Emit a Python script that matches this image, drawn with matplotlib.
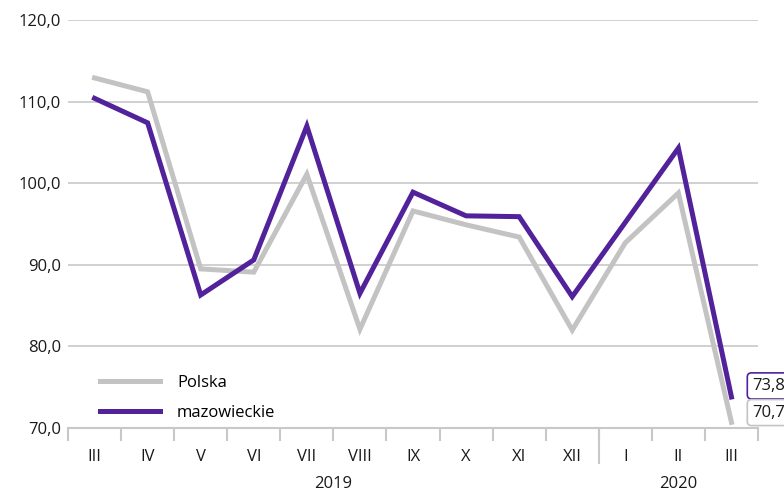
import numpy as np
import matplotlib.pyplot as plt
from matplotlib.ticker import FuncFormatter

# Dati
MESI = ['III', 'IV', 'V', 'VI', 'VII', 'VIII', 'IX', 'X', 'XI', 'XII', 'I', 'II', 'III']
ANNI = ['2019', '2020']
MESI_PER_ANNO = [10, 3]
POLSKA = [112.9, 111.2, 89.5, 89.1, 101.1, 82.1, 96.6, 94.9, 93.4, 82.0, 92.7, 98.8, 70.7]
MAZOWIECKIE = [110.4, 107.4, 86.3, 90.6, 107.0, 86.5, 98.9, 96.0, 95.9, 86.1, 95.2, 104.3, 73.8]

GRIGIO = '#c3c3c3'
VIOLA = '#51229a'
ASSI = '#c8c8c8'

plt.rcParams['font.family'] = ['Open Sans', 'DejaVu Sans']
plt.rcParams['font.size'] = 12

fig = plt.figure(figsize=(7.84, 4.94), dpi=100)
ax = fig.add_axes([68 / 784, 1 - 428 / 494, 690 / 784, 408 / 494])

x = np.arange(len(MESI))
ax.plot(x, POLSKA, color=GRIGIO, lw=3.6, solid_joinstyle='miter', label='Polska', zorder=3)
ax.plot(x, MAZOWIECKIE, color=VIOLA, lw=3.6, solid_joinstyle='miter', label='mazowieckie', zorder=4)

ax.set_xlim(-0.5, len(MESI) - 0.5)
ax.set_ylim(70, 120)
ax.set_yticks(np.arange(70, 121, 10))
ax.yaxis.set_major_formatter(FuncFormatter(lambda v, p: f'{v:.1f}'.replace('.', ',')))
ax.grid(axis='y', color=ASSI, lw=1.2)
ax.set_axisbelow(True)

for s in ['left', 'right', 'top']:
    ax.spines[s].set_visible(False)
ax.spines['bottom'].set_color(ASSI)
ax.spines['bottom'].set_linewidth(1.5)

ax.set_xticks(x)
ax.set_xticklabels(MESI)
ax.set_xticks(np.arange(-0.5, len(MESI)), minor=True)
ax.tick_params(axis='x', which='major', length=0, pad=15, labelsize=12, colors='#1a1a1a')
ax.tick_params(axis='x', which='minor', length=9, width=1.5, color=ASSI)
ax.tick_params(axis='y', length=0, pad=5, labelsize=12, colors='#1a1a1a')

# Separatore anni e etichette anni
inizio = 0
for anno, n in zip(ANNI, MESI_PER_ANNO):
    centro = inizio + (n - 1) / 2
    ax.text(centro, -0.137, anno, transform=ax.get_xaxis_transform(),
            ha='center', va='center', fontsize=12, color='#1a1a1a')
    inizio += n
    if inizio < len(MESI):
        ax.plot([inizio - 0.5, inizio - 0.5], [0, -0.085], color=ASSI, lw=1.5,
                transform=ax.get_xaxis_transform(), clip_on=False)

# Etichette ultimo valore
for serie, col, dy in [(MAZOWIECKIE, VIOLA, 8), (POLSKA, GRIGIO, 7)]:
    ax.annotate(f'{serie[-1]:.1f}'.replace('.', ','), (x[-1], serie[-1]),
                xytext=(15, dy), textcoords='offset points',
                ha='left', va='center', fontsize=12, color='#1a1a1a',
                bbox=dict(boxstyle='round,pad=0.3,rounding_size=0.25', fc='white', ec=col, lw=1.2),
                annotation_clip=False, zorder=5)

leg = ax.legend(loc='lower left', bbox_to_anchor=(0.025, -0.02), frameon=False, handlelength=3.6,
                handletextpad=1.0, labelspacing=0.85, fontsize=12)

fig.savefig('out.png', dpi=100)
